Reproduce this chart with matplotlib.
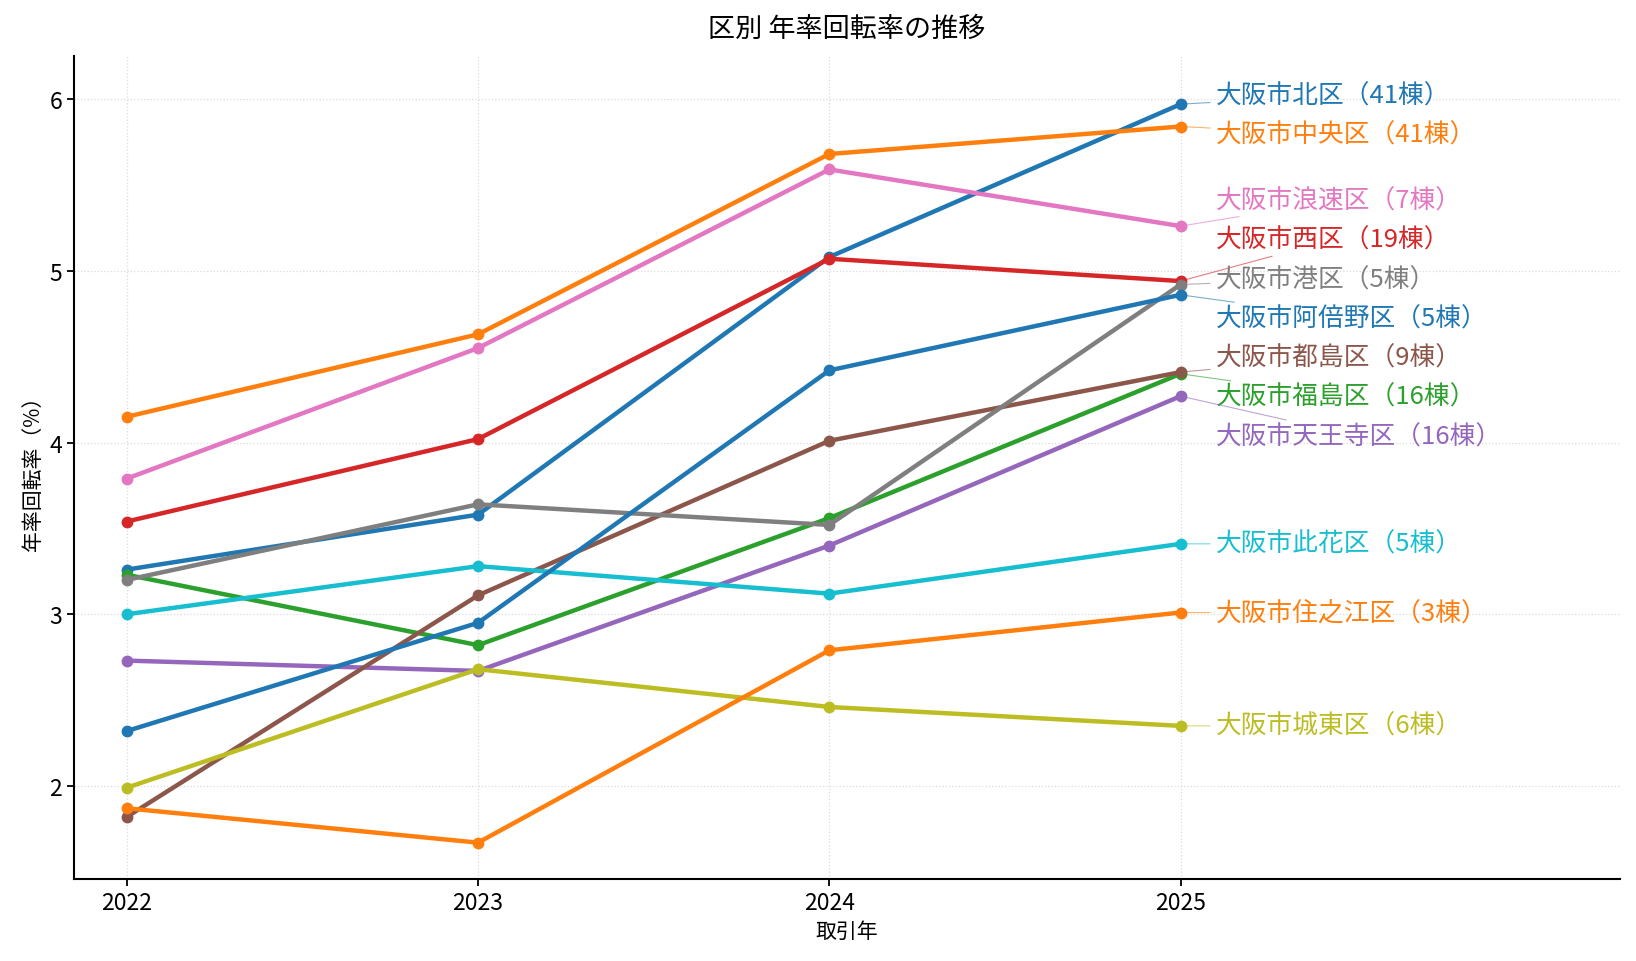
import numpy as np
import matplotlib
matplotlib.use("Agg")
import matplotlib.pyplot as plt

plt.rcParams["font.family"] = ["Noto Sans CJK JP", "DejaVu Sans"]

# Data
years = [2022, 2023, 2024, 2025]

wards = [
    "大阪市北区", "大阪市中央区", "大阪市福島区", "大阪市西区",
    "大阪市天王寺区", "大阪市都島区", "大阪市浪速区", "大阪市港区",
    "大阪市城東区", "大阪市此花区", "大阪市阿倍野区", "大阪市住之江区",
]
counts = [41, 41, 16, 19, 16, 9, 7, 5, 6, 5, 5, 3]

rates = [
    [3.26, 3.58, 5.08, 5.97],  # 北区
    [4.15, 4.63, 5.68, 5.84],  # 中央区
    [3.23, 2.82, 3.56, 4.40],  # 福島区
    [3.54, 4.02, 5.07, 4.94],  # 西区
    [2.73, 2.67, 3.40, 4.27],  # 天王寺区
    [1.82, 3.11, 4.01, 4.41],  # 都島区
    [3.79, 4.55, 5.59, 5.26],  # 浪速区
    [3.20, 3.64, 3.52, 4.92],  # 港区
    [1.99, 2.68, 2.46, 2.35],  # 城東区
    [3.00, 3.28, 3.12, 3.41],  # 此花区
    [2.32, 2.95, 4.42, 4.86],  # 阿倍野区
    [1.87, 1.67, 2.79, 3.01],  # 住之江区
]

colors = plt.get_cmap("tab10").colors


def spread_labels(values, gap):
    # group overlapping labels and center each group on its members' mean
    order = np.argsort(values)[::-1]
    groups = [[i] for i in order]
    changed = True
    while changed:
        changed = False
        pos = {}
        for g in groups:
            center = np.mean([values[i] for i in g])
            top = center + gap * (len(g) - 1) / 2
            for k, i in enumerate(g):
                pos[i] = top - k * gap
        for a in range(len(groups) - 1):
            low = pos[groups[a][-1]]
            high = pos[groups[a + 1][0]]
            if low - high < gap - 1e-9:
                groups[a] = groups[a] + groups[a + 1]
                del groups[a + 1]
                changed = True
                break
    return pos


fig, ax = plt.subplots(figsize=(16.36, 9.62), dpi=100)
fig.subplots_adjust(left=0.0453, right=0.990, top=0.941, bottom=0.085)

last_vals = [r[-1] for r in rates]
label_y = spread_labels(last_vals, 0.229)

for i, (name, n, r) in enumerate(zip(wards, counts, rates)):
    c = colors[i % 10]
    ax.plot(years, r, color=c, lw=3.2, marker="o", markersize=7.5)
    ax.annotate(
        f"{name}（{n}棟）",
        xy=(years[-1], r[-1]),
        xytext=(years[-1] + 0.1, label_y[i]),
        textcoords="data",
        ha="left", va="center",
        fontsize=18.5, color=c,
        arrowprops=dict(arrowstyle="-", color=c, lw=0.8, alpha=0.6),
    )

ax.set_xlim(2021.85, 2026.25)
ax.set_ylim(1.457, 6.252)
ax.set_xticks(years)
ax.set_yticks([2, 3, 4, 5, 6])
ax.tick_params(labelsize=16.5, length=5, width=1.3)

ax.set_title("区別 年率回転率の推移", fontsize=19.5, pad=14)
ax.set_xlabel("取引年", fontsize=15)
ax.set_ylabel("年率回転率（%）", fontsize=15)

ax.spines["top"].set_visible(False)
ax.spines["right"].set_visible(False)
ax.spines["left"].set_linewidth(1.5)
ax.spines["bottom"].set_linewidth(1.5)
ax.grid(True, linestyle=":", color="#cccccc", lw=0.9, alpha=0.7)
ax.set_axisbelow(True)

fig.savefig("out.png", dpi=100)
